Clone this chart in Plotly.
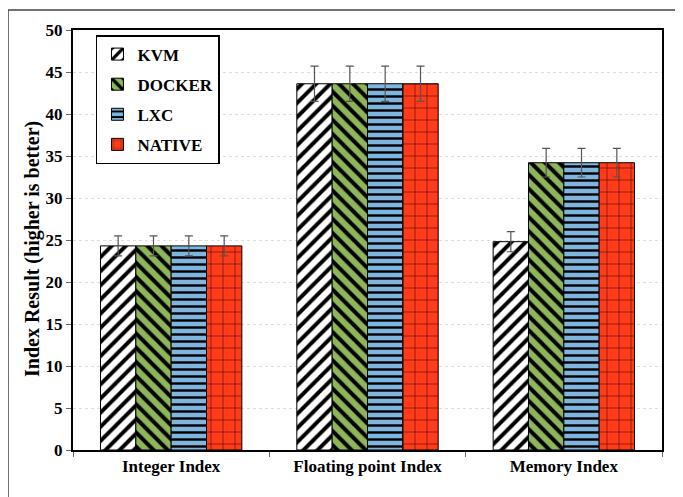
import plotly.graph_objects as go

categories = ["Integer Index", "Floating point Index", "Memory Index"]
series_names = ["KVM", "DOCKER", "LXC", "NATIVE"]
kvm = [24.3, 43.6, 24.8]
docker = [24.3, 43.6, 34.2]
lxc = [24.3, 43.6, 34.2]
native = [24.3, 43.6, 34.2]
kvm_err = [1.2, 2.1, 1.2]
docker_err = [1.2, 2.1, 1.7]
lxc_err = [1.2, 2.1, 1.7]
native_err = [1.2, 2.1, 1.7]
y_ticks = [0, 5, 10, 15, 20, 25, 30, 35, 40, 45, 50]

values = [kvm, docker, lxc, native]
errors = [kvm_err, docker_err, lxc_err, native_err]
colors = ["#FFFFFF", "#8DB55A", "#7EB6E0", "#FF3B1A"]
patterns = [
    dict(shape="/", fgcolor="black", bgcolor="#FFFFFF", size=10, solidity=0.4, fgopacity=1),
    dict(shape="\\", fgcolor="black", bgcolor="#8DB55A", size=10, solidity=0.4, fgopacity=1),
    dict(shape="-", fgcolor="black", bgcolor="#7EB6E0", size=7, solidity=0.35, fgopacity=1),
    dict(shape="+", fgcolor="#2a0800", bgcolor="#FF3B1A", size=12, solidity=0.1, fgopacity=0.85),
]

FONT = "Liberation Serif"

fig = go.Figure()
for i, name in enumerate(series_names):
    fig.add_trace(go.Bar(
        x=categories, y=values[i], name=name,
        legendgroup=name,
        marker=dict(color=colors[i], pattern=patterns[i],
                    line=dict(color="black", width=1)),
        error_y=dict(type="data", array=errors[i], color="#555555",
                     thickness=1.2, width=4),
    ))

fig.update_layout(
    width=683, height=497,
    margin=dict(l=65, r=29, t=22, b=55),
    paper_bgcolor="white", plot_bgcolor="white",
    barmode="group", bargap=0.28, bargroupgap=0,
    font=dict(family=FONT, size=17, color="black", weight="bold"),
    showlegend=True,
    legend=dict(x=0.039, y=0.988, xanchor="left", yanchor="top",
                bgcolor="white", bordercolor="black", borderwidth=1.5,
                font=dict(family=FONT, size=17, color="black", weight="bold"),
                itemwidth=30, tracegroupgap=5),
    xaxis=dict(showline=True, linecolor="black", linewidth=2, mirror=True,
               ticks="outside", tickson="boundaries", ticklen=5, tickcolor="#666",
               tickfont=dict(family=FONT, size=17, weight="bold")),
    yaxis=dict(range=[0, 50], tickvals=y_ticks, showline=True, linecolor="black",
               linewidth=2, mirror=True, ticks="outside", ticklen=5, tickcolor="#666",
               showgrid=True, gridcolor="#DDDDDD", griddash="dot", gridwidth=1,
               zeroline=False,
               tickfont=dict(family=FONT, size=17, weight="bold")),
    annotations=[dict(text="Index Result (higher is better)", xref="paper", yref="paper",
                      x=(32 - 73) / 589, y=1 - (249 - 30) / 420, xanchor="center",
                      yanchor="middle", textangle=-90, showarrow=False,
                      font=dict(family=FONT, size=20, color="black", weight="bold"))],
    shapes=[dict(type="rect", xref="paper", yref="paper",
                 x0=(8 - 73) / 589, x1=1.2, y0=-0.3, y1=1 + 20 / 420,
                 line=dict(color="#444", width=1.5), layer="below")],
)

fig.write_html("out.html")
